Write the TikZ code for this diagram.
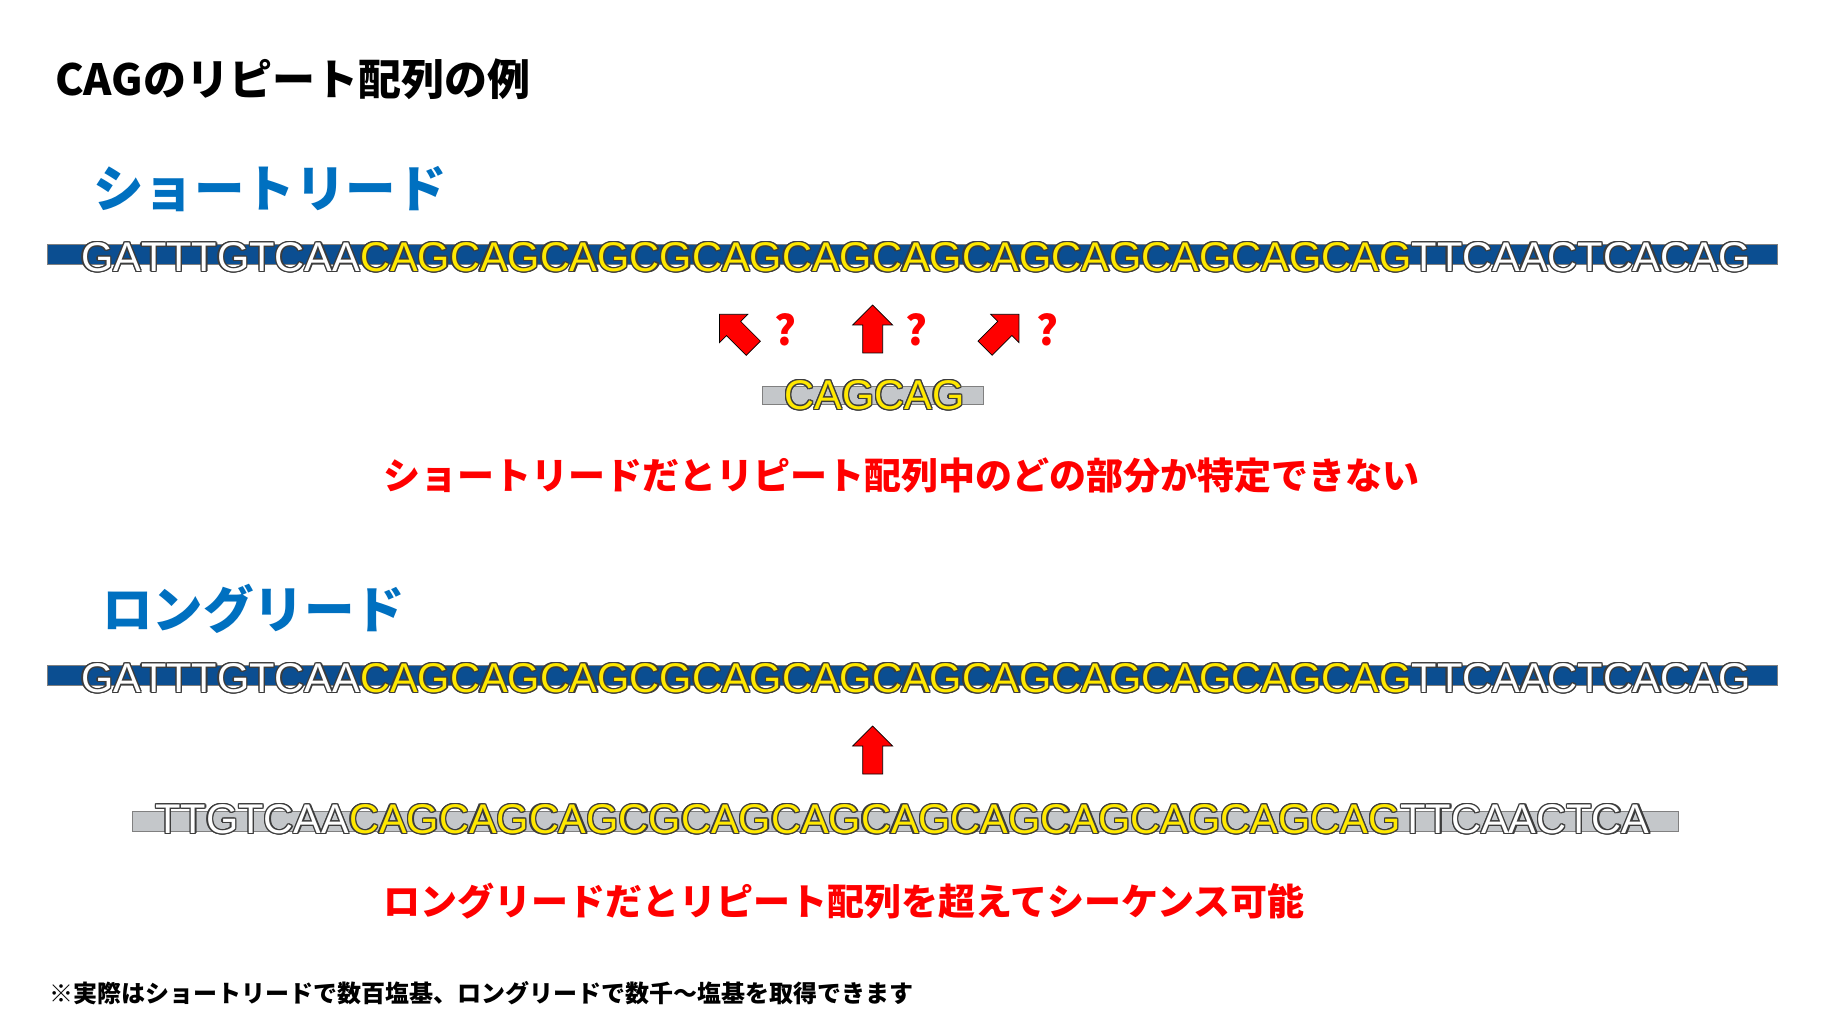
\documentclass[tikz,border=0pt]{standalone}
\usepackage{fontspec}
\setmainfont{Liberation Sans}
\newfontfamily\jpfont{Noto Sans CJK JP}
\newfontfamily\seqfont{Liberation Sans}[Kerning=Off]

\definecolor{headblue}{RGB}{0,112,192}
\definecolor{barblue}{RGB}{11,78,145}
\definecolor{readgray}{RGB}{196,199,202}
\definecolor{barline}{RGB}{128,128,128}
\definecolor{cagyellow}{RGB}{255,232,0}
\definecolor{seqline}{RGB}{60,60,60}
\definecolor{alertred}{RGB}{255,0,0}
\colorlet{segW}{white}
\colorlet{segY}{cagyellow}

\tikzset{
  seqtext/.style={font=\seqfont\fontsize{41.5pt}{42pt}\selectfont, inner sep=0pt, anchor=base west},
  refbar/.style={fill=barblue, draw=barline, line width=0.8pt},
  readbar/.style={fill=readgray, draw=barline, line width=0.8pt},
  titletext/.style={font=\jpfont\bfseries\fontsize{43pt}{52pt}\selectfont, inner sep=0pt, anchor=west},
  headtext/.style={font=\jpfont\bfseries\fontsize{50.5pt}{60pt}\selectfont, text=headblue, inner sep=0pt, anchor=west},
  notetext/.style={font=\jpfont\bfseries\fontsize{37pt}{44pt}\selectfont, text=alertred, inner sep=0pt, anchor=west},
  foottext/.style={font=\jpfont\bfseries\fontsize{24pt}{29pt}\selectfont, inner sep=0pt, anchor=west},
  qmark/.style={font=\jpfont\bfseries\fontsize{41pt}{48pt}\selectfont, text=alertred, inner sep=0pt},
  arrowbody/.style={fill=alertred, draw=black, line width=0.7pt, line join=miter},
  redarrow/.pic={\draw[arrowbody] (-10,24) -- (-10,-4) -- (-20,-4) -- (0,-24) -- (20,-4) -- (10,-4) -- (10,24) -- cycle;}
}

\newcommand\repeatcag{CAGCAGCAGCGCAGCAGCAGCAGCAGCAGCAGCAG}
% outlined sequence: copies in seqline, then the coloured text on top
\newcommand\outlineseq[3]{%
  \foreach \ang in {0,30,...,330}
    \node[seqtext, shift={(\ang:1.25)}] at (#2) {\colorlet{segW}{seqline}\colorlet{segY}{seqline}#3};
  \node[seqtext] (#1) at (#2) {#3};}

\begin{document}
\begin{tikzpicture}[x=1pt, y=-1pt]
\fill[white] (0,0) rectangle (1821,1024);
\useasboundingbox (0,0) rectangle (1821,1024);

\node[titletext] (title) at (55,79) {CAGのリピート配列の例};

% short read
\node[headtext] (shorthead) at (93,188.7) {ショートリード};
\draw[refbar] (47,244) rectangle (1777,264);
\outlineseq{refshort}{81,271.4}{\textcolor{segW}{GATTTGTCAA}\textcolor{segY}{\repeatcag}\textcolor{segW}{TTCAACTCACAG}}

\pic[rotate=45] (arrowleft) at (736.4,331.3) {redarrow};
\pic (arrowmid) at (872.7,329) {redarrow};
\pic[rotate=-45] (arrowright) at (1002,331.3) {redarrow};
\node[qmark] (q1) at (785,330) {?};
\node[qmark] (q2) at (916,330) {?};
\node[qmark] (q3) at (1047,330) {?};

\draw[readbar] (762,386) rectangle (983,404);
\outlineseq{shortread}{784.3,409.4}{\textcolor{segY}{CAGCAG}}

\node[notetext] (shortnote) at (383,476) {ショートリードだとリピート配列中のどの部分か特定できない};

% long read
\node[headtext] (longhead) at (102,609) {ロングリード};
\draw[refbar] (47,665) rectangle (1777,685);
\outlineseq{reflong}{81,692.4}{\textcolor{segW}{GATTTGTCAA}\textcolor{segY}{\repeatcag}\textcolor{segW}{TTCAACTCACAG}}

\pic (arrowlong) at (872.7,750) {redarrow};

\draw[readbar] (132,811) rectangle (1678,831);
\outlineseq{longread}{155.3,833.5}{\textcolor{segW}{TTGTCAA}\textcolor{segY}{\repeatcag}\textcolor{segW}{TTCAACTCA}}

\node[notetext] (longnote) at (383,901) {ロングリードだとリピート配列を超えてシーケンス可能};

\node[foottext] (footnote) at (49,993) {※実際はショートリードで数百塩基、ロングリードで数千〜塩基を取得できます};
\end{tikzpicture}
\end{document}
